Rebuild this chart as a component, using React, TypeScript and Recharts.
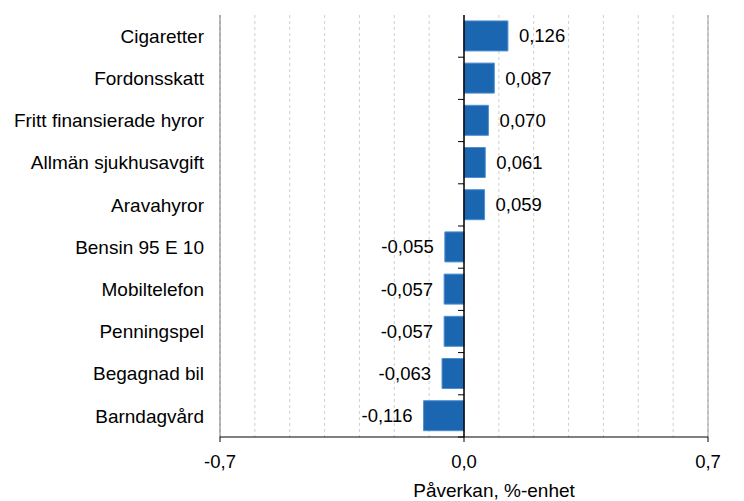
import { BarChart, Bar, XAxis, YAxis, CartesianGrid, ReferenceLine, LabelList } from "recharts";

const categories = [
  "Cigaretter",
  "Fordonsskatt",
  "Fritt finansierade hyror",
  "Allmän sjukhusavgift",
  "Aravahyror",
  "Bensin 95 E 10",
  "Mobiltelefon",
  "Penningspel",
  "Begagnad bil",
  "Barndagvård",
];
const impact = [0.126, 0.087, 0.07, 0.061, 0.059, -0.055, -0.057, -0.057, -0.063, -0.116];
const gridTicks = [-0.7, -0.6, -0.5, -0.4, -0.3, -0.2, -0.1, 0, 0.1, 0.2, 0.3, 0.4, 0.5, 0.6, 0.7];
const majorTicks = [-0.7, 0, 0.7];
const axisTitle = "Påverkan, %-enhet";

const data = categories.map((name, i) => ({ name, value: impact[i] }));

const fmt = (v: number, d: number) => v.toFixed(d).replace(".", ",");

const XTick = (props: any) => {
  const { x, y, payload } = props;
  const v = Number(payload.value);
  if (!majorTicks.some((m) => Math.abs(m - v) < 1e-9)) return null;
  return (
    <g>
      <line x1={x} x2={x} y1={y} y2={y + 5} stroke="#000" />
      <text x={x} y={y + 31} textAnchor="middle" fontSize={18.5} fill="#000">
        {fmt(v, 1)}
      </text>
    </g>
  );
};

const ZeroLine = (props: any) => {
  const { x1, y1, y2 } = props;
  const n = categories.length;
  const step = (y2 - y1) / n;
  return (
    <g>
      <line x1={x1} x2={x1} y1={y1} y2={y2} stroke="#000" strokeWidth={1.5} />
      {Array.from({ length: n }, (_, i) => (
        <line key={i} x1={x1 - 6} x2={x1} y1={y1 + i * step} y2={y1 + i * step} stroke="#000" />
      ))}
    </g>
  );
};

const ValueLabel = (props: any) => {
  const { x, y, width, height, value } = props;
  const left = Math.min(x, x + width);
  const right = Math.max(x, x + width);
  const cy = y + height / 2;
  const neg = value < 0;
  return (
    <text
      x={neg ? left - 11 : right + 11}
      y={cy}
      textAnchor={neg ? "end" : "start"}
      dominantBaseline="central"
      fontSize={18.5}
      fill="#000"
    >
      {fmt(value, 3)}
    </text>
  );
};

export default function App() {
  return (
    <div style={{ position: "absolute", left: 0, top: 0, fontFamily: "'Liberation Sans', Arial, sans-serif" }}>
      <BarChart
        width={744}
        height={501}
        data={data}
        layout="vertical"
        margin={{ top: 15, right: 36, left: 0, bottom: 0 }}
        barCategoryGap="14%"
      >
        <CartesianGrid horizontal={false} stroke="#cfcfcf" strokeDasharray="3 3" />
        <XAxis
          type="number"
          domain={[-0.7, 0.7]}
          ticks={gridTicks}
          interval={0}
          height={64}
          tickSize={0}
          tickMargin={0}
          tickLine={false}
          stroke="#000"
          tick={<XTick />}
          label={(p: any) => {
            const vb = p.viewBox;
            return (
              <text x={vb.x + vb.width / 2 + 30} y={vb.y + 60} textAnchor="middle" fontSize={19} fill="#000">
                {axisTitle}
              </text>
            );
          }}
        />
        <YAxis
          type="category"
          dataKey="name"
          width={220}
          axisLine={false}
          tickLine={false}
          tickMargin={10}
          interval={0}
          tick={{ fontSize: 19, fill: "#000" }}
        />
        <ReferenceLine x={-0.7} stroke="#777" />
        <ReferenceLine x={0.7} stroke="#999" />
        <Bar dataKey="value" fill="#1b66b1" stroke="#4f8fd0" strokeWidth={1} isAnimationActive={false}>
          <LabelList dataKey="value" content={<ValueLabel />} />
        </Bar>
        <ReferenceLine x={0} shape={<ZeroLine />} />
      </BarChart>
    </div>
  );
}
